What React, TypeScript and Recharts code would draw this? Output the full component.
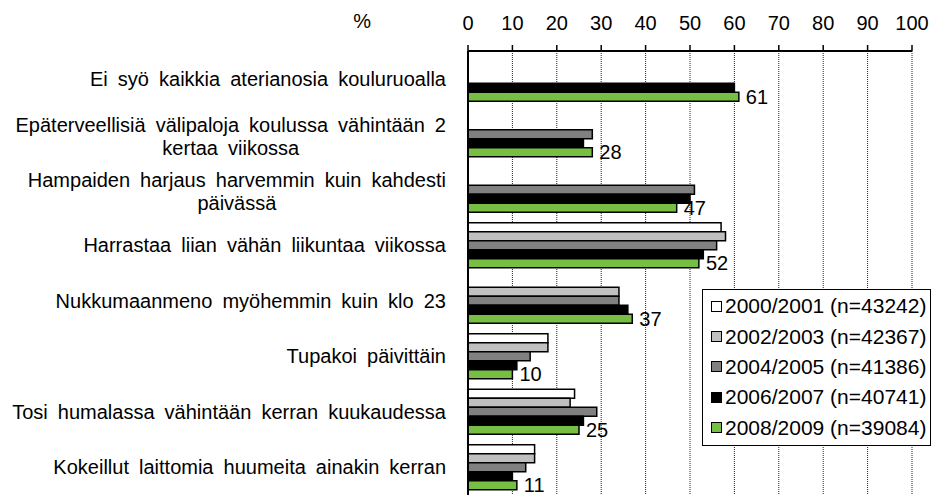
import { BarChart, Bar, XAxis, YAxis, CartesianGrid, Legend, LabelList, Label } from "recharts";

const categories = [
  "Ei syö kaikkia aterianosia kouluruoalla",
  "Epäterveellisiä välipaloja koulussa vähintään 2\nkertaa viikossa",
  "Hampaiden harjaus harvemmin kuin kahdesti\npäivässä",
  "Harrastaa liian vähän liikuntaa viikossa",
  "Nukkumaanmeno myöhemmin kuin klo 23",
  "Tupakoi päivittäin",
  "Tosi humalassa vähintään kerran kuukaudessa",
  "Kokeillut laittomia huumeita ainakin kerran",
];

const s2000 = [null, null, null, 57, null, 18, 24, 15];
const s2002 = [null, null, null, 58, 34, 18, 23, 15];
const s2004 = [null, 28, 51, 56, 34, 14, 29, 13];
const s2006 = [60, 26, 50, 53, 36, 11, 26, 10];
const s2008 = [61, 28, 47, 52, 37, 10, 25, 11];

const xTicks = [0, 10, 20, 30, 40, 50, 60, 70, 80, 90, 100];

const series = [
  { key: "a", name: "2000/2001 (n=43242)", color: "#ffffff" },
  { key: "b", name: "2002/2003 (n=42367)", color: "#c0c0c0" },
  { key: "c", name: "2004/2005 (n=41386)", color: "#808080" },
  { key: "d", name: "2006/2007 (n=40741)", color: "#000000" },
  { key: "e", name: "2008/2009 (n=39084)", color: "#77bf43" },
];

const data = categories.map((cat, i) => ({
  cat,
  a: s2000[i],
  b: s2002[i],
  c: s2004[i],
  d: s2006[i],
  e: s2008[i],
}));

const FONT = "'Liberation Sans', Arial, sans-serif";
const FS = 20;
const WS = 4.5; // wider gaps between words, as in the original

let ctx: CanvasRenderingContext2D | null = null;
function textWidth(s: string) {
  const spaces = s.split(" ").length - 1;
  if (!ctx) ctx = document.createElement("canvas").getContext("2d");
  if (!ctx) return s.length * FS * 0.5 + spaces * WS;
  ctx.font = `${FS}px ${FONT}`;
  return ctx.measureText(s).width + spaces * WS;
}

function CategoryTick(props: any) {
  const { x, y, payload } = props;
  const lines = String(payload.value).split("\n");
  const common = { fontSize: FS, fontFamily: FONT, fill: "#000", style: { wordSpacing: WS } };
  if (lines.length === 1) {
    return (
      <text x={x} y={y} dy="0.36em" textAnchor="end" {...common}>
        {lines[0]}
      </text>
    );
  }
  const w = textWidth(lines[0]);
  return (
    <g>
      <text x={x} y={y - 9.5} dy="0.36em" textAnchor="end" {...common}>
        {lines[0]}
      </text>
      <text x={x - w / 2} y={y + 13.5} dy="0.36em" textAnchor="middle" {...common}>
        {lines[1]}
      </text>
    </g>
  );
}

function LegendBox(props: any) {
  const items = props.payload || [];
  return (
    <div
      style={{
        width: 229,
        boxSizing: "border-box",
        border: "1.5px solid #000",
        background: "#fff",
        padding: "1px 0 2px 0",
        fontFamily: FONT,
        fontSize: 21,
        color: "#000",
      }}
    >
      {items.map((it: any) => (
        <div key={it.value} style={{ display: "flex", alignItems: "center", height: 30.4, paddingLeft: 8 }}>
          <span
            style={{
              display: "inline-block",
              width: 9,
              height: 9,
              border: "1.5px solid #000",
              background: it.color,
              marginRight: 3,
            }}
          />
          <span style={{ whiteSpace: "nowrap" }}>{it.value}</span>
        </div>
      ))}
    </div>
  );
}

export default function App() {
  return (
    <div style={{ position: "absolute", left: 0, top: 0, width: 935, height: 496, overflow: "hidden", background: "#fff" }}>
      <BarChart
        width={935}
        height={496}
        data={data}
        layout="vertical"
        margin={{ top: 0, right: 23, bottom: 1, left: 0 }}
        barCategoryGap={5.25}
        barGap={0}
      >
        <CartesianGrid horizontal={false} stroke="#222" strokeDasharray="1 1" />
        <XAxis
          type="number"
          orientation="top"
          domain={[0, 100]}
          ticks={xTicks}
          interval={0}
          height={51}
          tickSize={6}
          tickMargin={15}
          axisLine={{ stroke: "#000", strokeWidth: 2 }}
          tickLine={{ stroke: "#000", strokeWidth: 1.5 }}
          tick={{ fontSize: FS, fontFamily: FONT, fill: "#000" }}
        >
          <Label value="%" position="left" offset={97} dy={-5} fontSize={FS} fontFamily={FONT} fill="#000" />
        </XAxis>
        <YAxis
          type="category"
          dataKey="cat"
          width={468}
          interval={0}
          tickSize={0}
          tickMargin={22}
          axisLine={{ stroke: "#000", strokeWidth: 2 }}
          tickLine={false}
          tick={<CategoryTick />}
        />
        <Legend
          layout="horizontal"
          verticalAlign="middle"
          align="center"
          content={<LegendBox />}
          wrapperStyle={{ left: 702, top: 289, width: 229, height: 155 }}
        />
        {series.map((s) => (
          <Bar
            key={s.key}
            dataKey={s.key}
            name={s.name}
            fill={s.color}
            stroke="#000"
            strokeWidth={1.5}
            isAnimationActive={false}
          >
            {s.key === "e" && (
              <LabelList dataKey="e" position="right" offset={7} fontSize={FS} fontFamily={FONT} fill="#000" />
            )}
          </Bar>
        ))}
      </BarChart>
    </div>
  );
}
